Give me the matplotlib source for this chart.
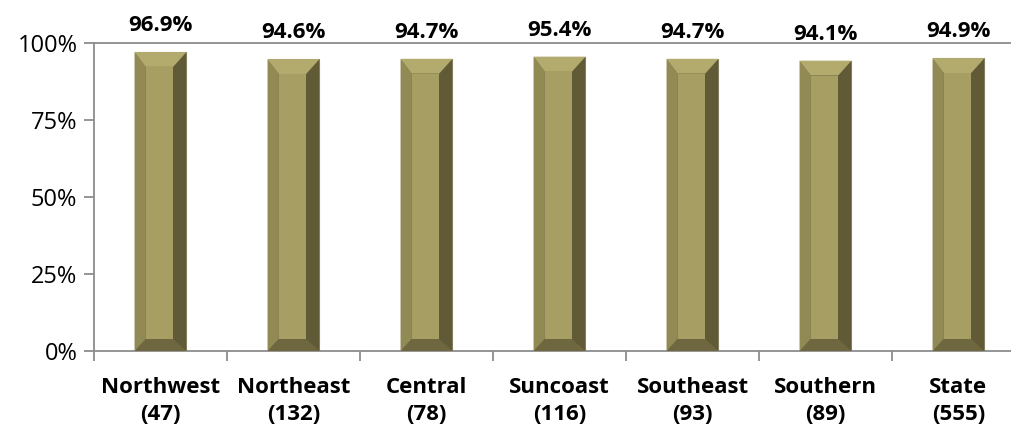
import matplotlib
matplotlib.use("Agg")
import matplotlib.pyplot as plt
from matplotlib.patches import Polygon

# data
regions = ["Northwest", "Northeast", "Central", "Suncoast", "Southeast", "Southern", "State"]
counts = [47, 132, 78, 116, 93, 89, 555]
pct = [96.9, 94.6, 94.7, 95.4, 94.7, 94.1, 94.9]

plt.rcParams['font.family'] = ['Open Sans', 'DejaVu Sans']
grey = '#8c8c8c'

fig = plt.figure(figsize=(10.12, 4.29), dpi=100)
ax = fig.add_axes([94/1012, (429-351)/429, (1025-94)/1012, (351-42.5)/429])

w = 0.39
dx_l, dx_r = 0.085, 0.10
dy_t, dy_b = 4.8, 4.0
c_face = '#a69e63'
c_left = '#928a55'
c_right = '#615a36'
c_top = '#b3ab6e'
c_bot = '#6e673f'

xs = range(len(regions))
ax.bar(xs, pct, width=w, color=c_right, edgecolor='#9a9a80', linewidth=0.8, zorder=2)
for i, v in zip(xs, pct):
    x0, x1 = i - w/2, i + w/2
    polys = [
        ([(x0, 0), (x1, 0), (x1-dx_r, dy_b), (x0+dx_l, dy_b)], c_bot),
        ([(x0, 0), (x0, v), (x0+dx_l, v-dy_t), (x0+dx_l, dy_b)], c_left),
        ([(x1, 0), (x1, v), (x1-dx_r, v-dy_t), (x1-dx_r, dy_b)], c_right),
        ([(x0, v), (x1, v), (x1-dx_r, v-dy_t), (x0+dx_l, v-dy_t)], c_top),
        ([(x0+dx_l, dy_b), (x1-dx_r, dy_b), (x1-dx_r, v-dy_t), (x0+dx_l, v-dy_t)], c_face),
    ]
    for pts, c in polys:
        ax.add_patch(Polygon(pts, closed=True, facecolor=c, edgecolor='none', zorder=3))
    ax.annotate(f"{v:.1f}%", (i, v), xytext=(0, 19), textcoords='offset points',
                ha='center', va='center', fontsize=16, fontweight='bold', color='#000000')

ax.set_xlim(-0.5, len(regions) - 0.5)
ax.set_ylim(0, 100)
ax.set_yticks([0, 25, 50, 75, 100])
ax.set_yticklabels([f"{t}%" for t in [0, 25, 50, 75, 100]], fontsize=17, color='#000000')
ax.set_xticks(list(xs))
ax.set_xticklabels([f"{r}\n({n})" for r, n in zip(regions, counts)],
                   fontsize=16, fontweight='bold', color='#000000', linespacing=1.35)
ax.set_xticks([i - 0.5 for i in range(len(regions) + 1)], minor=True)
ax.tick_params(axis='x', which='major', length=0, pad=19)
ax.tick_params(axis='x', which='minor', length=7, width=1.3, color=grey, direction='out')
ax.tick_params(axis='y', length=7, width=1.3, color=grey, direction='out', pad=5)
for s in ['left', 'bottom', 'top']:
    ax.spines[s].set_color(grey)
    ax.spines[s].set_linewidth(1.3)
ax.spines['right'].set_visible(False)

fig.savefig("out.png", dpi=100)
